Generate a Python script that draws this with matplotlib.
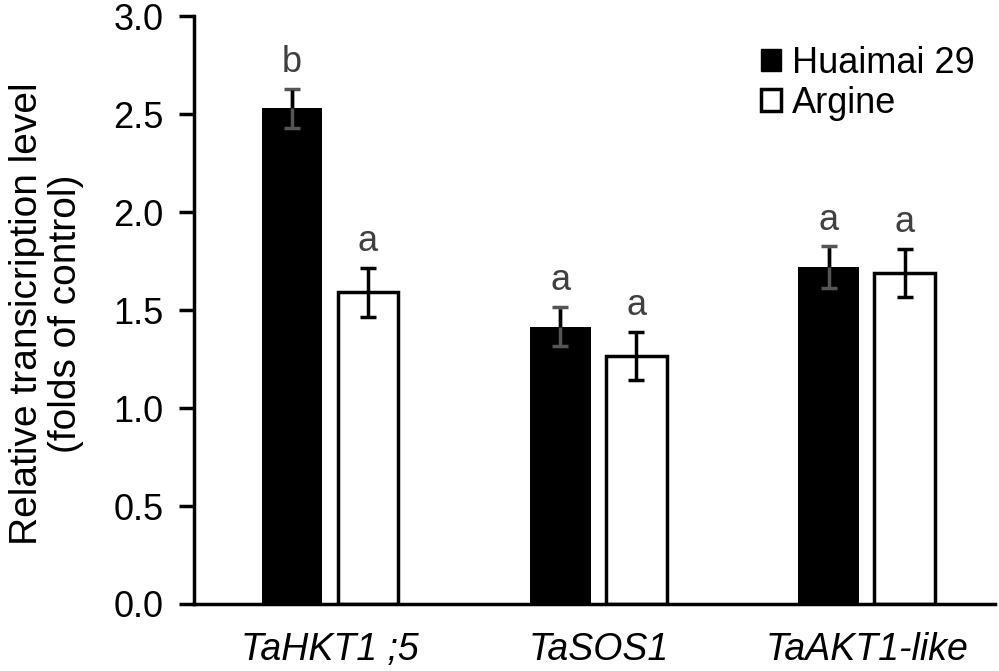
import numpy as np
import matplotlib
matplotlib.use("Agg")
import matplotlib.pyplot as plt
from matplotlib.patches import Patch

plt.rcParams['font.family'] = ['Liberation Sans', 'DejaVu Sans']

genes = ['TaHKT1 ;5', 'TaSOS1', 'TaAKT1-like']
huaimai = [2.53, 1.415, 1.72]
huaimai_err = [0.10, 0.10, 0.105]
argine = [1.59, 1.265, 1.69]
argine_err = [0.127, 0.123, 0.122]
huaimai_sig = ['b', 'a', 'a']
argine_sig = ['a', 'a', 'a']

fig = plt.figure(figsize=(9.99, 6.71), dpi=100)
ax = fig.add_axes([0.1942, 0.0999, 0.8018, 0.876])

x = np.arange(len(genes))
w = 0.227
off = 0.1415
lw = 2.5

ax.bar(x - off, huaimai, w, color='black', edgecolor='black', linewidth=0, zorder=2)
ax.bar(x + off, argine, w, color='white', edgecolor='black', linewidth=lw, zorder=2)
ax.errorbar(x - off, huaimai, yerr=huaimai_err, fmt='none', ecolor='#555555',
            elinewidth=lw, capsize=5.8, capthick=lw, zorder=3)
# part of the error bar above the black bar shows black
ax.vlines(x - off, huaimai, np.array(huaimai) + np.array(huaimai_err) - 0.008,
          color='black', linewidth=lw, zorder=4)
ax.errorbar(x + off, argine, yerr=argine_err, fmt='none', ecolor='black',
            elinewidth=lw, capsize=5.8, capthick=lw, zorder=3)

for xi, v, e, s in zip(x - off, huaimai, huaimai_err, huaimai_sig):
    ax.text(xi, v + e + 0.045, s, ha='center', va='bottom', fontsize=26, color='#404040')
for xi, v, e, s in zip(x + off, argine, argine_err, argine_sig):
    ax.text(xi, v + e + 0.045, s, ha='center', va='bottom', fontsize=26, color='#404040')

ax.set_xlim(-0.5065, 2.477)
ax.set_ylim(0, 3.0)
ax.set_yticks(np.arange(0, 3.01, 0.5))
ax.set_yticklabels([f'{t:.1f}' for t in np.arange(0, 3.01, 0.5)])
ax.set_xticks(x)
ax.set_xticklabels(genes, fontsize=27, style='italic')
ax.tick_params(axis='x', length=0, pad=20)
ax.tick_params(axis='y', direction='out', length=11, width=lw, labelsize=26, pad=11)

for side in ['top', 'right']:
    ax.spines[side].set_visible(False)
for side in ['left', 'bottom']:
    ax.spines[side].set_linewidth(lw)

ax.set_ylabel('Relative transicription level\n(folds of control)', fontsize=28,
              linespacing=1.12)
ax.yaxis.set_label_coords(-0.137, 0.493)

handles = [Patch(facecolor='black', edgecolor='black', label='Huaimai 29'),
           Patch(facecolor='white', edgecolor='black', linewidth=lw, label='Argine')]
ax.legend(handles=handles, loc='upper left', bbox_to_anchor=(0.708, 0.95), frameon=False,
          fontsize=26, handlelength=0.55, handleheight=0.55, handletextpad=0.3,
          labelspacing=0.15, borderaxespad=0, borderpad=0)

fig.savefig('out.png', dpi=100)
